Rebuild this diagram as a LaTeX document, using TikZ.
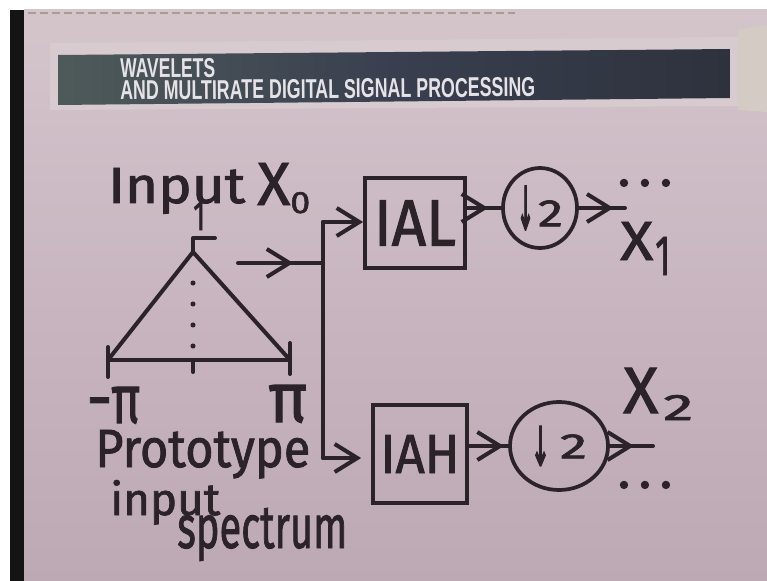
\documentclass[tikz,border=0pt]{standalone}
\usepackage{fontspec}
\setmainfont{Fira Sans}
\newfontfamily\handfont{Fira Sans}[FakeBold=1.6]
\newfontfamily\hdrfont{Liberation Sans}
\newfontfamily\symfont{DejaVu Sans}[FakeBold=4]
\usetikzlibrary{arrows.meta,shapes.geometric,decorations.markings}
\newcommand\pxl[1]{\dimexpr #1pt*3/4\relax}
\newcommand\hwr[3]{\resizebox{\pxl{#1}}{\pxl{#2}}{#3}}
\definecolor{ink}{HTML}{2B2328}
\definecolor{boardtop}{HTML}{D4C5CB}
\definecolor{boardmid}{HTML}{C8B5C0}
\definecolor{boardbot}{HTML}{BDA9B4}
\definecolor{framec}{HTML}{D7CBCF}
\definecolor{banL}{HTML}{4E5A5A}
\definecolor{banM}{HTML}{393F4F}
\definecolor{banR}{HTML}{2E323D}
\definecolor{hdrtext}{HTML}{E6E3E8}
\definecolor{tape}{HTML}{A89A92}
\definecolor{corner}{HTML}{D3CBC4}
\tikzset{
  hb/.tip={Straight Barb[length=17pt,width=21pt]},
  pen/.style={draw=ink,color=ink,line width=3pt,line cap=round,line join=round},
  midtip/.style={postaction={decorate},decoration={markings,mark=at position #1 with {\arrow{hb}}}},
  txt/.style={inner sep=0pt,anchor=base west,text=ink,font=\handfont},
  hdr/.style={inner sep=0pt,anchor=base west,rotate=0.5,text=hdrtext,font=\hdrfont\bfseries},
  blk/.style={draw=ink,line width=2.8pt,rectangle,inner sep=0pt,text=ink,font=\handfont},
  dwn/.style={draw=ink,line width=2.8pt,ellipse,inner sep=0pt,text=ink,font=\handfont},
  dotrow/.style={inner sep=0pt,anchor=base,text=ink,font=\handfont\fontsize{40}{40}\selectfont},
}
\begin{document}
\begin{tikzpicture}[x=0.75pt,y=-0.75pt]
\useasboundingbox (0,0) rectangle (767,581);
% background photo frame
\fill[white] (0,0) rectangle (767,581);
\shade[top color=boardtop, bottom color=boardbot, middle color=boardmid] (24,10) rectangle (767,581);
\fill[corner] (738,30) -- (767,25) -- (767,112) -- (738,110) -- cycle;
\fill[black!92] (10,10) rectangle (24,581);
\draw[line width=2.2pt, draw=tape, dash pattern=on 6pt off 3pt] (28,13) -- (515,13);
\fill[framec] (50,43) -- (738,37) -- (738,106) -- (50,110) -- cycle;
\shade[left color=banL, right color=banR, middle color=banM] (58,55) -- (730,49) -- (730,98) -- (58,105) -- cycle;
\node[hdr] (wav) at (120,78) {\hwr{95}{19}{WAVELETS}};
\node[hdr] (mdsp) at (120,100) {\hwr{415}{19}{AND MULTIRATE DIGITAL SIGNAL PROCESSING}};
% prototype spectrum
\coordinate (apex) at (193,252);
\coordinate (bl) at (108,360);
\coordinate (br) at (290,360);
\coordinate (pk) at (193,238);
\coordinate (pkr) at (215,238);
\draw[pen] (bl) -- (apex) -- (br);
\draw[pen] (bl) -- (br);
\draw[pen] (108,347) -- (108,377);
\draw[pen] (290,343) -- (290,374);
\draw[pen] (193,362) -- (193,372);
\draw[pen] (apex) -- (pk) -- (pkr);
\draw[pen, line width=3.8pt, dash pattern=on 0pt off 15.75pt] (193,283) -- (193,350);
% labels
\node[txt] (lblinput) at (108,203) {\hwr{137}{35}{Input}};
\node[txt] (lblx0) at (257,205) {\hwr{33}{42}{X}\raisebox{\pxl{-8}}{\hwr{20}{21}{0}}};
\node[txt] (lblone) at (193,230) {\hwr{12}{28}{1}};
\node[txt] (lblmpi) at (87,423) {\hwr{53}{36}{−π}};
\node[txt] (lblpi) at (268,422) {\hwr{39}{37}{π}};
\node[txt] (lblproto) at (95,467) {\hwr{215}{37}{Prototype}};
\node[txt] (lblinp) at (110,515) {\hwr{110}{35}{input}};
\node[txt] (lblspec) at (177,548) {\hwr{170}{40}{spectrum}};
% branch
\coordinate (ia) at (238,263);
\coordinate (jin) at (323,263);
\coordinate (jt) at (323,222);
\coordinate (jb) at (323,458);
\draw[pen,midtip=0.65] (ia) -- (jin);
\draw[pen] (jt) -- (jb);
% blocks
\node[blk, minimum width=75pt, minimum height=67.5pt] (ial) at (415,223) {\hwr{82}{45}{IAL}};
\node[blk, minimum width=70.5pt, minimum height=73.5pt] (iah) at (420,454) {\hwr{79}{38}{IAH}};
\node[dwn, minimum width=55.5pt, minimum height=60pt] (c1) at (540,208)
  {\hwr{17}{43}{\symfont ↓}\kern\pxl{4}\raisebox{\pxl{3}}{\hwr{25}{26}{2}}};
\node[dwn, minimum width=73.5pt, minimum height=66pt] (c2) at (559,446)
  {\hwr{19}{39}{\symfont ↓}\kern\pxl{10}\raisebox{\pxl{7}}{\hwr{27}{24}{2}}};
\draw[pen,-{hb}] (jt) -- (ial.west |- jt);
\draw[pen,-{hb},shorten >=7.5pt] (jb) -- (iah.west |- jb);
\draw[pen,midtip=0.62] (ial.east |- c1.west) -- (c1.west);
\coordinate (o1) at (625,208);
\draw[pen,midtip=0.75] (c1.east) -- (o1);
\draw[pen,midtip=0.89] (iah.east |- c2.west) -- (c2.west);
\coordinate (o2) at (653,446);
\draw[pen,midtip=0.56] (c2.east) -- (o2);
% outputs
\node[dotrow] (dots1) at (645,186) {\makebox[\pxl{21}]{.}\makebox[\pxl{21}]{.}\makebox[\pxl{21}]{.}};
\node[dotrow] (dots2) at (645,488) {\makebox[\pxl{21}]{.}\makebox[\pxl{21}]{.}\makebox[\pxl{21}]{.}};
\node[txt] (lblx1) at (620,260) {\hwr{33}{38}{X}\kern\pxl{2}\raisebox{\pxl{-15}}{\hwr{15}{38}{1}}};
\node[txt] (lblx2) at (623,413) {\hwr{35}{45}{X}\kern\pxl{5}\raisebox{\pxl{-7}}{\hwr{30}{25}{2}}};
\end{tikzpicture}
\end{document}
